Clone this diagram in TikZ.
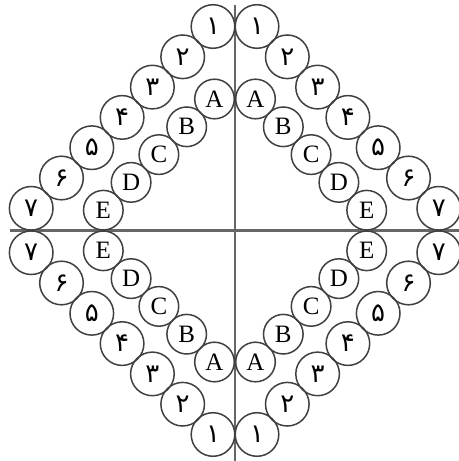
\documentclass[tikz,border=0pt]{standalone}
\usepackage{fontspec}
\setmainfont{Liberation Serif}
\newfontfamily\fafont[Script=Arabic]{DejaVu Sans}
\usetikzlibrary{calc}
\tikzset{
  dig/.style={circle, draw=black!75, line width=0.75pt, minimum size=21.8pt, inner sep=0pt, font=\fafont\fontsize{13}{13}\selectfont},
  ltr/.style={dig, minimum size=19.8pt, font=\fontsize{12.5}{12.5}\selectfont},
  axis/.style={draw=black!60, line width=1pt}
}

\begin{document}
\begin{tikzpicture}[x=0.5pt, y=0.5pt]
		\useasboundingbox (-235,-230.5) rectangle (224,230.5);
		\coordinate (top) at (0,225.5);
		\coordinate (bot) at (0,-230.5);
		\coordinate (lft) at (-225,0);
		\coordinate (rgt) at (224,0);
		\draw[axis] (top) -- (bot);
		\draw[axis] (lft) -- (rgt);
		\foreach \sx/\sy/\q in {1/1/ne, -1/1/nw, 1/-1/se, -1/-1/sw} {
			\foreach \d [count=\i from 0] in {۱,۲,۳,۴,۵,۶,۷}
				\node[dig] (o\i\q) at ({\sx*(22+30.3*\i)}, {\sy*(204-30.3*\i)}) {\d};
			\foreach \l [count=\j from 0] in {A,B,C,D,E}
				\node[ltr] (\l\q) at ({\sx*(20.5+27.8*\j)}, {\sy*(131.5-27.8*\j)}) {\l};
		}
	\end{tikzpicture}
\end{document}
